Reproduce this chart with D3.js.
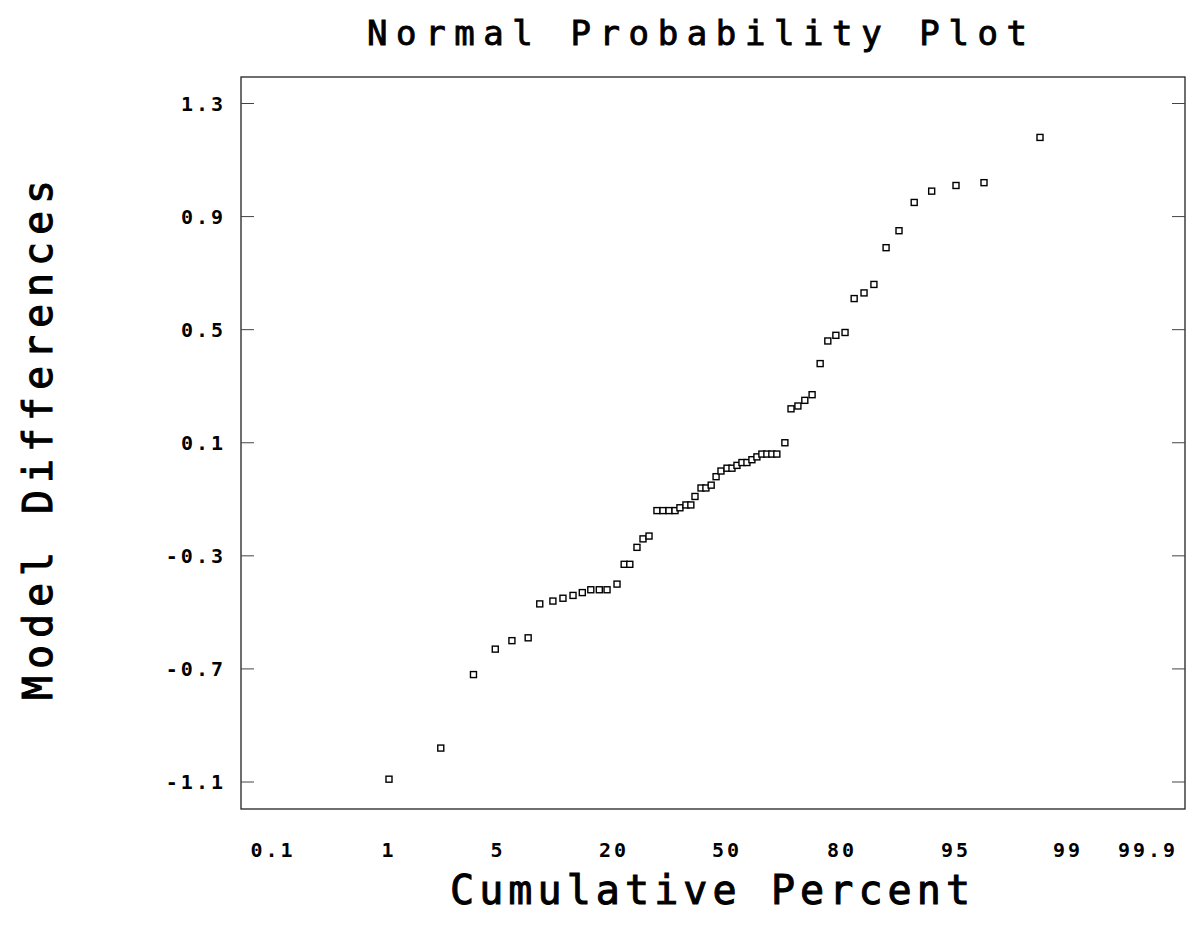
<!DOCTYPE html>
<html>
<head>
<meta charset="utf-8">
<script src="https://cdn.jsdelivr.net/npm/d3@7"></script>
<style>
  html, body { margin: 0; padding: 0; background: #fff; }
  svg { display: block; }
  text { font-family: "DejaVu Sans Mono", "Liberation Mono", monospace; fill: #000; }
</style>
</head>
<body>
<svg id="chart" width="1196" height="939"></svg>
<script>
// ---- data ----
const xTickValues = [0.1, 1, 5, 20, 50, 80, 95, 99, 99.9];
const xTickLabels = ["0.1", "1", "5", "20", "50", "80", "95", "99", "99.9"];
const yTickValues = [-1.1, -0.7, -0.3, 0.1, 0.5, 0.9, 1.3];
const yTickLabels = ["-1.1", "-0.7", "-0.3", "0.1", "0.5", "0.9", "1.3"];

// cumulative percent of each ordered residual
const cumPercent = [
  1.0, 2.9, 4.1, 4.9, 6.8, 8.9, 10.4, 12.1, 13.4, 14.7,
  15.9, 17.0, 18.1, 19.1, 20.8, 22.7, 24.2, 26.1, 27.7, 29.3,
  31.4, 33.0, 34.6, 36.2, 37.5, 39.1, 40.4, 41.5, 43.1, 44.4,
  45.8, 47.1, 48.4, 50.0, 51.3, 52.6, 53.9, 55.2, 56.5, 57.8,
  59.1, 60.4, 61.7, 63.0, 65.1, 66.7, 68.5, 70.3, 72.2, 74.3,
  76.3, 78.4, 80.4, 81.6, 82.9, 84.2, 85.8, 87.5, 89.5, 91.8,
  95.0, 96.0, 98.0
];
// model differences (ordered)
const modelDiff = [
  -1.09, -0.98, -0.72, -0.63, -0.60, -0.59, -0.47, -0.46, -0.45, -0.44,
  -0.43, -0.42, -0.42, -0.42, -0.40, -0.33, -0.33, -0.27, -0.24, -0.23,
  -0.14, -0.14, -0.14, -0.14, -0.13, -0.12, -0.12, -0.09, -0.06, -0.06,
  -0.05, -0.02, 0.00, 0.01, 0.01, 0.02, 0.03, 0.03, 0.04, 0.05,
  0.06, 0.06, 0.06, 0.06, 0.10, 0.22, 0.23, 0.25, 0.27, 0.38,
  0.46, 0.48, 0.49, 0.61, 0.63, 0.66, 0.79, 0.85, 0.95, 0.99,
  1.01, 1.02, 1.18
];

const titleText = "Normal Probability Plot";
const xTitle = "Cumulative Percent";
const yTitle = "Model Differences";

// ---- layout ----
const svg = d3.select("#chart");
const frame = { left: 241, right: 1185, top: 77, bottom: 809 };
const tickPos = [273, 389, 498, 614, 727, 842, 956, 1068, 1148];

const x = d3.scaleLinear().domain(xTickValues).range(tickPos);
const y = d3.scaleLinear().domain([-1.1, 1.3]).range([782, 103.5]);

// frame
svg.append("rect")
  .attr("x", frame.left).attr("y", frame.top)
  .attr("width", frame.right - frame.left)
  .attr("height", frame.bottom - frame.top)
  .attr("fill", "none").attr("stroke", "#222").attr("stroke-width", 1.3);

// y ticks (inward on both sides)
const yt = svg.append("g");
yTickValues.forEach((v, i) => {
  const py = y(v);
  yt.append("line").attr("x1", frame.left).attr("x2", frame.left + 13)
    .attr("y1", py).attr("y2", py).attr("stroke", "#444").attr("stroke-width", 1);
  yt.append("line").attr("x1", frame.right - 13).attr("x2", frame.right)
    .attr("y1", py).attr("y2", py).attr("stroke", "#444").attr("stroke-width", 1);
  yt.append("text")
    .attr("x", 226).attr("y", py + 7)
    .attr("text-anchor", "end")
    .attr("font-size", 20).attr("font-weight", "bold")
    .attr("letter-spacing", 3)
    .text(yTickLabels[i]);
});

// x tick labels below the frame
const xt = svg.append("g");
xTickValues.forEach((v, i) => {
  xt.append("text")
    .attr("x", x(v)).attr("y", 857)
    .attr("text-anchor", "middle")
    .attr("font-size", 20).attr("font-weight", "bold")
    .attr("letter-spacing", 3)
    .text(xTickLabels[i]);
});

// points: small open squares
const s = 6;
svg.append("g").selectAll("rect")
  .data(cumPercent.map((p, i) => [p, modelDiff[i]]))
  .join("rect")
  .attr("x", d => x(d[0]) - s / 2)
  .attr("y", d => y(d[1]) - s / 2)
  .attr("width", s).attr("height", s)
  .attr("fill", "#fff").attr("stroke", "#000").attr("stroke-width", 1.4);

// title
svg.append("text")
  .attr("x", 697).attr("y", 45)
  .attr("text-anchor", "middle")
  .attr("font-size", 34)
  .attr("stroke", "#000").attr("stroke-width", 0.9)
  .attr("textLength", 660).attr("lengthAdjust", "spacing")
  .text(titleText);

// x axis title
svg.append("text")
  .attr("x", 710).attr("y", 904)
  .attr("text-anchor", "middle")
  .attr("font-size", 40)
  .attr("stroke", "#000").attr("stroke-width", 1)
  .attr("textLength", 520).attr("lengthAdjust", "spacing")
  .text(xTitle);

// y axis title
svg.append("text")
  .attr("transform", "translate(52,440) rotate(-90)")
  .attr("text-anchor", "middle")
  .attr("font-size", 40)
  .attr("stroke", "#000").attr("stroke-width", 1)
  .attr("textLength", 520).attr("lengthAdjust", "spacing")
  .text(yTitle);
</script>
</body>
</html>
